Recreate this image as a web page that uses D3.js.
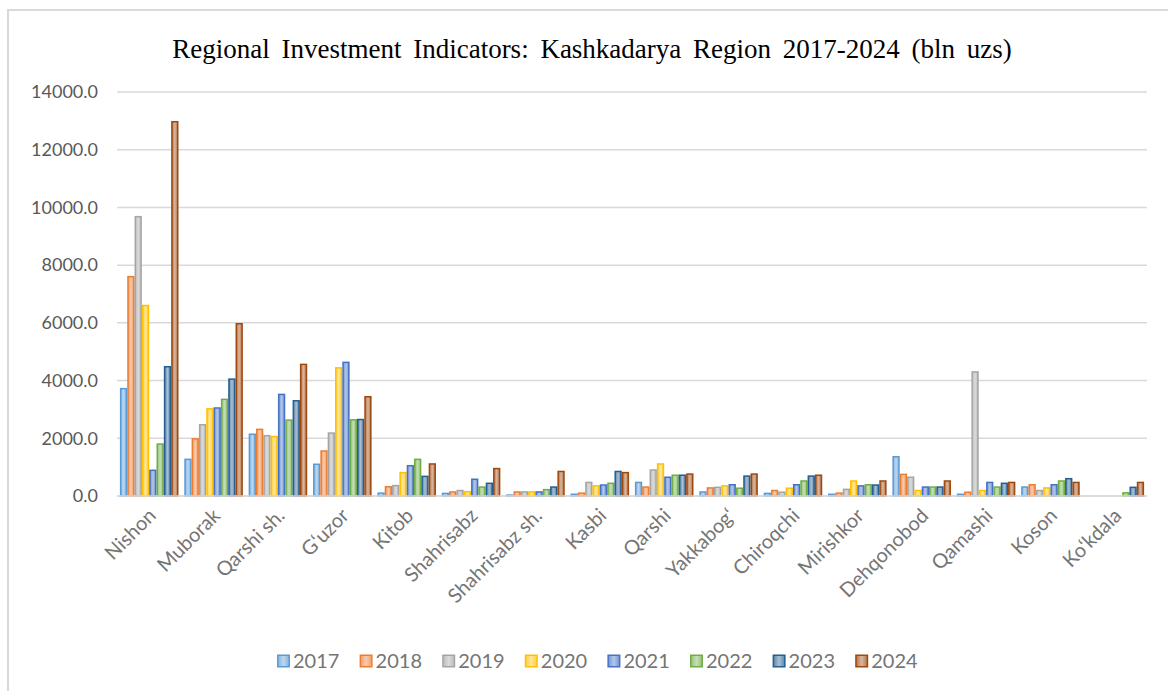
<!DOCTYPE html>
<html>
<head>
<meta charset="utf-8">
<script src="https://cdn.jsdelivr.net/npm/d3@7"></script>
<style>
  body { margin: 0; background: #fff; }
  svg { display: block; }
</style>
</head>
<body>
<svg id="chart" width="1168" height="691"></svg>
<script>
// districts of Kashkadarya region
const regions = ["Nishon", "Muborak", "Qarshi sh.", "G\u2018uzor", "Kitob", "Shahrisabz",
  "Shahrisabz sh.", "Kasbi", "Qarshi", "Yakkabog\u2018", "Chiroqchi", "Mirishkor",
  "Dehqonobod", "Qamashi", "Koson", "Ko\u2018kdala"];

const years = ["2017", "2018", "2019", "2020", "2021", "2022", "2023", "2024"];

// investment per year, bln uzs (one value per region, same order as above)
const v2017 = [3720, 1270, 2140, 1100, 100, 90, 30, 60, 470, 140, 90, 60, 1360, 60, 310, 0];
const v2018 = [7600, 1980, 2310, 1560, 320, 140, 140, 100, 310, 280, 190, 100, 750, 130, 390, 0];
const v2019 = [9680, 2470, 2090, 2180, 360, 190, 140, 470, 900, 300, 130, 230, 650, 4300, 190, 0];
const v2020 = [6600, 3020, 2060, 4440, 810, 150, 140, 350, 1110, 350, 270, 520, 190, 190, 280, 0];
const v2021 = [890, 3050, 3520, 4630, 1050, 580, 140, 380, 650, 390, 390, 350, 310, 470, 390, 0];
const v2022 = [1800, 3350, 2630, 2640, 1270, 310, 220, 440, 720, 270, 520, 390, 310, 310, 520, 110];
const v2023 = [4480, 4050, 3300, 2650, 680, 440, 310, 850, 720, 690, 690, 380, 310, 440, 600, 300];
const v2024 = [12970, 5970, 4560, 3440, 1110, 950, 850, 810, 760, 760, 720, 520, 520, 470, 470, 470];

const seriesVals = [v2017, v2018, v2019, v2020, v2021, v2022, v2023, v2024];
const yTicks = [0, 2000, 4000, 6000, 8000, 10000, 12000, 14000];

const colors = ["#5B9BD5", "#ED7D31", "#A5A5A5", "#FFC000", "#4472C4", "#70AD47", "#255E91", "#9E480E"];

const W = 1168, H = 691;
const plotL = 117, plotR = 1147, plotT = 92, plotB = 496;
const txtCol = "#595959";
const lblCol = "#757575";
const axFont = "Lato, 'Open Sans', sans-serif";

const svg = d3.select("#chart");

// chart frame (only top and left edge visible)
svg.append("line").attr("x1", 8).attr("x2", W).attr("y1", 10).attr("y2", 10)
  .attr("stroke", "#d9d9d9").attr("stroke-width", 2);
svg.append("line").attr("x1", 8).attr("x2", 8).attr("y1", 9).attr("y2", H)
  .attr("stroke", "#d9d9d9").attr("stroke-width", 2);

// gradients for the bars, light stripe in the middle
const defs = svg.append("defs");
colors.forEach(function(c, i) {
  var g = defs.append("linearGradient").attr("id", "grad" + i)
    .attr("x1", "0%").attr("x2", "100%").attr("y1", "0%").attr("y2", "0%");
  g.append("stop").attr("offset", "0%").attr("stop-color", d3.interpolateRgb(c, "#fff")(0.25));
  g.append("stop").attr("offset", "50%").attr("stop-color", d3.interpolateRgb(c, "#fff")(0.6));
  g.append("stop").attr("offset", "100%").attr("stop-color", d3.interpolateRgb(c, "#fff")(0.25));
});

const x0 = d3.scaleBand().domain(regions).range([plotL, plotR])
  .paddingInner(0.09).paddingOuter(0.045);
const x1 = d3.scaleBand().domain(years).range([0, x0.bandwidth()]);
const y = d3.scaleLinear().domain([0, 14000]).range([plotB, plotT]);

// grid lines
svg.append("g").selectAll("line").data(yTicks).join("line")
  .attr("x1", plotL).attr("x2", plotR)
  .attr("y1", d => y(d)).attr("y2", d => y(d))
  .attr("stroke", "#d9d9d9").attr("stroke-width", 1.5);

// y axis labels
const yAxis = svg.append("g").attr("transform", "translate(" + (plotL - 8) + ",0)")
  .call(d3.axisLeft(y).tickValues(yTicks).tickFormat(d3.format(".1f")).tickSize(0).tickPadding(11));
yAxis.select(".domain").remove();
yAxis.selectAll("text").attr("fill", txtCol).style("font-family", axFont).style("font-size", "18px");

// bars
const data = [];
regions.forEach(function(r, i) {
  years.forEach(function(yr, j) {
    data.push({region: r, year: yr, idx: j, value: seriesVals[j][i]});
  });
});

svg.append("g").selectAll("rect").data(data.filter(d => d.value > 0)).join("rect")
  .attr("x", d => x0(d.region) + x1(d.year) + 0.75)
  .attr("width", x1.bandwidth() - 1.5)
  .attr("y", d => y(d.value))
  .attr("height", d => plotB - y(d.value))
  .attr("fill", d => "url(#grad" + d.idx + ")")
  .attr("stroke", d => colors[d.idx])
  .attr("stroke-width", 1.5);

// x axis baseline
svg.append("line").attr("x1", plotL).attr("x2", plotR).attr("y1", plotB).attr("y2", plotB)
  .attr("stroke", "#d9d9d9").attr("stroke-width", 1.5);

// x labels, rotated
svg.append("g").selectAll("text").data(regions).join("text")
  .attr("transform", d => "translate(" + (x0(d) + x0.bandwidth() / 2 + 3) + "," + (plotB + 16) + ") rotate(-45)")
  .attr("text-anchor", "end")
  .attr("dy", "0.35em")
  .attr("fill", lblCol)
  .style("font-family", axFont)
  .style("font-size", "20px")
  .text(d => d);

// title
svg.append("text")
  .attr("x", 592).attr("y", 58)
  .attr("text-anchor", "middle")
  .style("font-family", "'Liberation Serif', 'Times New Roman', serif")
  .style("font-size", "27px")
  .style("word-spacing", "5px")
  .attr("fill", "#000")
  .text("Regional Investment Indicators: Kashkadarya Region 2017-2024 (bln uzs)");

// legend
const leg = svg.append("g").selectAll("g").data(years).join("g")
  .attr("transform", (d, i) => "translate(" + (277 + i * 82.6) + ",661)");
leg.append("rect")
  .attr("x", 0.75).attr("y", -5.75).attr("width", 11.5).attr("height", 11.5)
  .attr("fill", (d, i) => "url(#grad" + i + ")")
  .attr("stroke", (d, i) => colors[i]).attr("stroke-width", 1.5);
leg.append("text")
  .attr("x", 16).attr("dy", "0.35em")
  .attr("fill", lblCol)
  .style("font-family", axFont)
  .style("font-size", "20px")
  .text(d => d);
</script>
</body>
</html>
